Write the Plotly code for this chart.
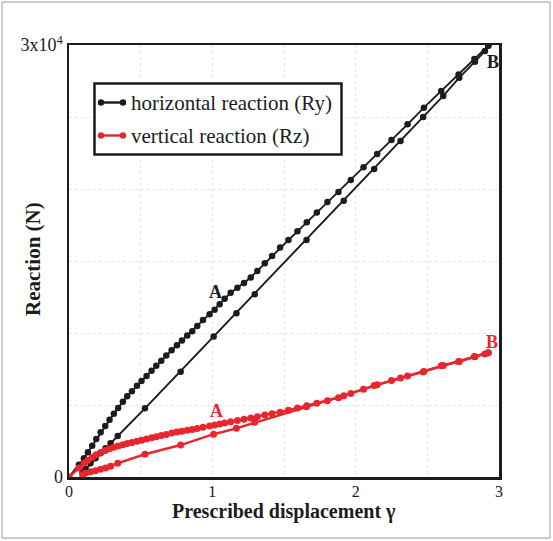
import plotly.graph_objects as go

# ---------------- data ----------------
# loading branch: prescribed displacement and reactions (in N)
gamma_load = [0, 0.069, 0.104, 0.132, 0.162, 0.190, 0.221, 0.253, 0.283, 0.313,
              0.343, 0.376, 0.406, 0.439, 0.474, 0.506, 0.541, 0.576, 0.609, 0.644,
              0.679, 0.716, 0.753, 0.788, 0.825, 0.860, 0.895, 0.935, 0.981, 1.016,
              1.051, 1.086, 1.128, 1.175, 1.221, 1.268, 1.314, 1.366, 1.417, 1.473,
              1.531, 1.594, 1.659, 1.729, 1.803, 1.880, 1.966, 2.055, 2.150, 2.250,
              2.362, 2.476, 2.597, 2.718, 2.828, 2.925]
Ry_load = [0, 850, 1300, 1720, 2170, 2640, 3100, 3550, 3980, 4400,
           4800, 5230, 5600, 5960, 6330, 6660, 7020, 7380, 7720, 8080,
           8430, 8800, 9150, 9480, 9820, 10130, 10480, 10900, 11300, 11620,
           11990, 12380, 12800, 13150, 13480, 13860, 14310, 14840, 15350, 15930,
           16460, 17060, 17690, 18360, 19100, 19790, 20630, 21510, 22430, 23400,
           24490, 25650, 26810, 27950, 29030, 29950]
Rz_load = [0, 620, 950, 1170, 1380, 1550, 1700, 1840, 1960, 2060,
           2150, 2240, 2320, 2400, 2480, 2560, 2640, 2720, 2800, 2880,
           2960, 3050, 3120, 3180, 3240, 3290, 3360, 3450, 3540, 3610,
           3680, 3750, 3840, 3920, 4010, 4090, 4190, 4310, 4400, 4500,
           4640, 4790, 4950, 5120, 5300, 5510, 5800, 6100, 6400, 6700,
           7020, 7330, 7720, 8020, 8360, 8630]

# unloading branch (from B back towards zero)
gamma_unload = [2.925, 2.902, 2.832, 2.723, 2.611, 2.471, 2.313, 2.129, 1.917, 1.657,
                1.296, 1.168, 1.009, 0.779, 0.530, 0.340, 0.290, 0.255, 0.220, 0.185,
                0.150, 0.115, 0.095]
Ry_unload = [29950, 29580, 28840, 27730, 26460, 25000, 23330, 21390, 19190, 16460,
             12690, 11370, 9750, 7310, 4770, 2850, 2350, 2000, 1650, 1300,
             950, 580, 330]
Rz_unload = [8630, 8550, 8350, 8020, 7750, 7300, 6880, 6350, 5650, 4880,
             3800, 3380, 2970, 2220, 1580, 950, 750, 620, 530, 440,
             370, 280, 150]

x_tickvals = [0, 1, 2, 3]
x_ticktext = ["0", "1", "2", "3"]
x_minor_grid = [0.5, 1.5, 2.5]
y_tickvals = [0, 30000]
y_ticktext = ["0", "3x10<sup>4</sup>"]
y_minor_grid = [5000, 10000, 15000, 20000, 25000]

legend_labels = ["horizontal reaction (Ry)", "vertical reaction (Rz)"]

BLACK = "#1c1c1c"
RED = "#e8262d"
FONT = "Liberation Serif"
GRID = "#e4e4e4"

fig = go.Figure()


def add_series(xl, yl, xu, yu, color, lw, ms):
    for xs, ys in ((xl, yl), (xu, yu)):
        fig.add_trace(go.Scatter(x=xs, y=ys, mode="lines+markers",
                                 line=dict(color=color, width=lw),
                                 marker=dict(color=color, size=ms),
                                 showlegend=False, hoverinfo="skip"))


add_series(gamma_load, Ry_load, gamma_unload, Ry_unload, BLACK, 1.9, 6.5)
add_series(gamma_load, Rz_load, gamma_unload, Rz_unload, RED, 2.4, 7)

W, H = 553, 541
ML, MR, MT, MB = 69, 54, 45, 64
PW = W - ML - MR
PH = H - MT - MB


def px(xp):
    return (xp - ML) / PW


def py(yp):
    return (H - MB - yp) / PH


shapes = []
# outer gray frame of the picture
shapes.append(dict(type="rect", xref="paper", yref="paper",
                   x0=px(2), x1=px(550), y0=py(538), y1=py(2),
                   line=dict(color="#9a9a9a", width=1), layer="below"))
# legend box
shapes.append(dict(type="rect", xref="paper", yref="paper",
                   x0=px(94.5), x1=px(341.5), y0=py(154.5), y1=py(83.5),
                   line=dict(color=BLACK, width=2.5), fillcolor="white"))
annotations = []
rows = [102.5, 135.5]
for label, color, yrow in zip(legend_labels, [BLACK, RED], rows):
    shapes.append(dict(type="line", xref="paper", yref="paper",
                       x0=px(101), x1=px(123), y0=py(yrow), y1=py(yrow),
                       line=dict(color=color, width=2.4)))
    for xc in (101, 123):
        shapes.append(dict(type="circle", xref="paper", yref="paper",
                           x0=px(xc - 3.2), x1=px(xc + 3.2),
                           y0=py(yrow + 3.2), y1=py(yrow - 3.2),
                           line=dict(color=color, width=0), fillcolor=color))
    annotations.append(dict(xref="paper", yref="paper", x=px(129), y=py(yrow),
                            xanchor="left", yanchor="middle", showarrow=False,
                            text=label, font=dict(family=FONT, size=21, color=BLACK)))

# axis titles
annotations.append(dict(xref="paper", yref="paper", x=px(284), y=py(511),
                        xanchor="center", yanchor="middle", showarrow=False,
                        text="<b>Prescribed displacement γ</b>",
                        font=dict(family=FONT, size=20, color=BLACK)))
annotations.append(dict(xref="paper", yref="paper", x=px(33), y=py(259),
                        xanchor="center", yanchor="middle", showarrow=False,
                        textangle=-90, text="<b>Reaction (N)</b>",
                        font=dict(family=FONT, size=21, color=BLACK)))

# point labels A / B
for txt, x, y, c in [("A", 1.019, 12850, BLACK), ("B", 2.96, 28800, BLACK),
                     ("A", 1.026, 4580, RED), ("B", 2.951, 9380, RED)]:
    annotations.append(dict(x=x, y=y, xref="x", yref="y", showarrow=False,
                            text="<b>%s</b>" % txt,
                            font=dict(family=FONT, size=18, color=c)))

axis_common = dict(showgrid=True, gridcolor=GRID, gridwidth=1, griddash="dot",
                   zeroline=False, showline=True, linecolor=BLACK, linewidth=2.5,
                   mirror=True, ticks="")

fig.update_layout(
    width=W, height=H,
    margin=dict(l=ML, r=MR, t=MT, b=MB, pad=0),
    paper_bgcolor="white", plot_bgcolor="white",
    shapes=shapes, annotations=annotations,
    font=dict(family=FONT, size=18, color=BLACK),
    xaxis=dict(range=[0, 3], tickmode="array", tickvals=x_tickvals, ticktext=x_ticktext,
               tickfont=dict(family=FONT, size=16), ticklabelstandoff=-2,
               minor=dict(tickmode="array", tickvals=x_minor_grid, showgrid=True,
                          gridcolor=GRID, gridwidth=1, griddash="dot", ticks=""),
               **axis_common),
    yaxis=dict(range=[0, 30000], tickmode="array", tickvals=y_tickvals, ticktext=y_ticktext,
               tickfont=dict(family=FONT, size=18),
               minor=dict(tickmode="array", tickvals=y_minor_grid, showgrid=True,
                          gridcolor=GRID, gridwidth=1, griddash="dot", ticks=""),
               **axis_common),
)

fig.write_html("out.html",
               config={"displayModeBar": False, "staticPlot": True},
               post_script="document.body.style.margin='0px';"
                           "document.body.style.overflow='hidden';")
